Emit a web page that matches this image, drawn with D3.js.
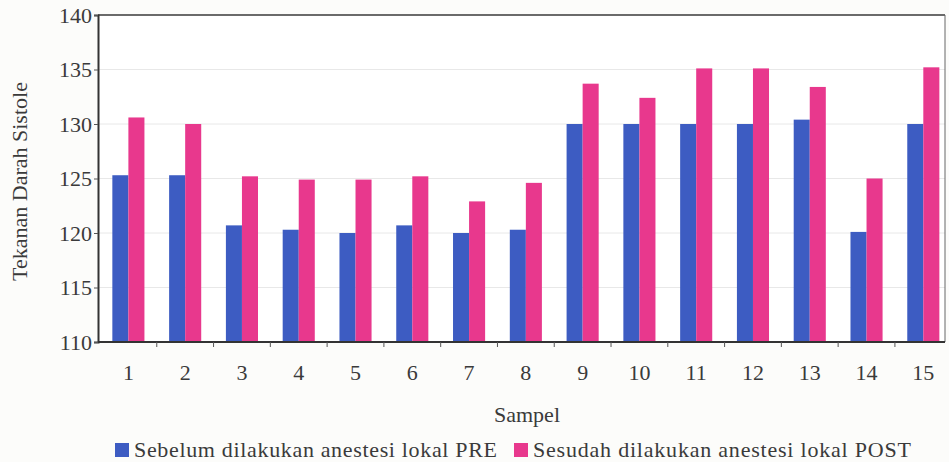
<!DOCTYPE html>
<html>
<head>
<meta charset="utf-8">
<script src="https://cdn.jsdelivr.net/npm/d3@7"></script>
<style>
  html, body { margin: 0; padding: 0; background: #fcfcfa; }
  svg { display: block; }
  svg text { font-family: "Liberation Serif", "Times New Roman", Times, "DejaVu Serif", serif; fill: #3a3a3a; }
</style>
</head>
<body>
<svg id="chart" width="949" height="462"></svg>
<script>
const categories = ["1","2","3","4","5","6","7","8","9","10","11","12","13","14","15"];
const preValues  = [125.3, 125.3, 120.7, 120.3, 120.0, 120.7, 120.0, 120.3, 130.0, 130.0, 130.0, 130.0, 130.4, 120.1, 130.0];
const postValues = [130.6, 130.0, 125.2, 124.9, 124.9, 125.2, 122.9, 124.6, 133.7, 132.4, 135.1, 135.1, 133.4, 125.0, 135.2];
const yTicks = [110, 115, 120, 125, 130, 135, 140];
const seriesNames = ["Sebelum dilakukan anestesi lokal PRE", "Sesudah dilakukan anestesi lokal POST"];
const seriesColors = ["#3d5cc2", "#e8388d"];
const yTitle = "Tekanan Darah Sistole";
const xTitle = "Sampel";

const svg = d3.select("#chart");
const plot = { left: 98, top: 15, right: 945, bottom: 342 };

const x = d3.scaleBand().domain(categories).range([100, 951.7]).padding(0);
const y = d3.scaleLinear().domain([110, 140]).range([plot.bottom, plot.top]);
const barW = x.bandwidth() * 0.2826;

svg.append("rect")
  .attr("x", plot.left).attr("y", plot.top)
  .attr("width", plot.right - plot.left).attr("height", plot.bottom - plot.top)
  .attr("fill", "#ffffff");

svg.append("g").selectAll("line").data(yTicks.filter(d => d > 110 && d < 140)).join("line")
  .attr("x1", plot.left).attr("x2", plot.right)
  .attr("y1", d => y(d)).attr("y2", d => y(d))
  .attr("stroke", "#e8e8e8").attr("stroke-width", 1);

const rows = categories.map((c, i) => ({ c, pre: preValues[i], post: postValues[i] }));
const g = svg.append("g");
g.selectAll("rect.pre").data(rows).join("rect")
  .attr("class", "pre")
  .attr("x", d => x(d.c) + x.bandwidth() / 2 - barW)
  .attr("y", d => y(d.pre))
  .attr("width", barW)
  .attr("height", d => y(110) - y(d.pre))
  .attr("fill", seriesColors[0]);
g.selectAll("rect.post").data(rows).join("rect")
  .attr("class", "post")
  .attr("x", d => x(d.c) + x.bandwidth() / 2)
  .attr("y", d => y(d.post))
  .attr("width", barW)
  .attr("height", d => y(110) - y(d.post))
  .attr("fill", seriesColors[1]);

svg.append("line").attr("x1", plot.left).attr("x2", plot.right).attr("y1", plot.top).attr("y2", plot.top)
  .attr("stroke", "#3a3a3a").attr("stroke-width", 1.6);
svg.append("line").attr("x1", plot.right).attr("x2", plot.right).attr("y1", plot.top).attr("y2", plot.bottom)
  .attr("stroke", "#666").attr("stroke-width", 1);

const yAxis = svg.append("g")
  .attr("transform", `translate(${plot.left},0)`)
  .call(d3.axisLeft(y).tickValues(yTicks).tickSize(4).tickPadding(2).tickFormat(d3.format("d")));
yAxis.attr("font-family", null);
yAxis.select(".domain").attr("stroke", "#333").attr("stroke-width", 2);
yAxis.selectAll(".tick line").attr("stroke", "#555");
yAxis.selectAll(".tick text").attr("font-size", 22).attr("fill", "#3a3a3a");

const xAxis = svg.append("g")
  .attr("transform", `translate(0,${plot.bottom})`)
  .call(d3.axisBottom(x).tickSize(0).tickPadding(22));
xAxis.attr("font-family", null);
xAxis.select(".domain").remove();
xAxis.selectAll(".tick text").attr("font-size", 22).attr("fill", "#3a3a3a");
svg.append("line").attr("x1", plot.left).attr("x2", plot.right).attr("y1", plot.bottom).attr("y2", plot.bottom)
  .attr("stroke", "#333").attr("stroke-width", 2);
svg.append("g").selectAll("line").data(categories.slice(1)).join("line")
  .attr("x1", d => x(d)).attr("x2", d => x(d))
  .attr("y1", plot.bottom).attr("y2", plot.bottom + 5)
  .attr("stroke", "#555");

svg.append("text")
  .attr("transform", `translate(27,${(plot.top + plot.bottom) / 2 + 3}) rotate(-90)`)
  .attr("text-anchor", "middle").attr("font-size", 22)
  .text(yTitle);
svg.append("text")
  .attr("x", 527).attr("y", 422)
  .attr("text-anchor", "middle").attr("font-size", 22)
  .text(xTitle);

const legendX = [115, 514];
const legendLen = [363, 378];
seriesNames.forEach((name, i) => {
  svg.append("rect").attr("x", legendX[i]).attr("y", 443).attr("width", 14).attr("height", 14)
    .attr("fill", seriesColors[i]);
  svg.append("text").attr("x", legendX[i] + 19).attr("y", 457).attr("font-size", 22)
    .attr("textLength", legendLen[i]).attr("lengthAdjust", "spacing")
    .text(name);
});
</script>
</body>
</html>
